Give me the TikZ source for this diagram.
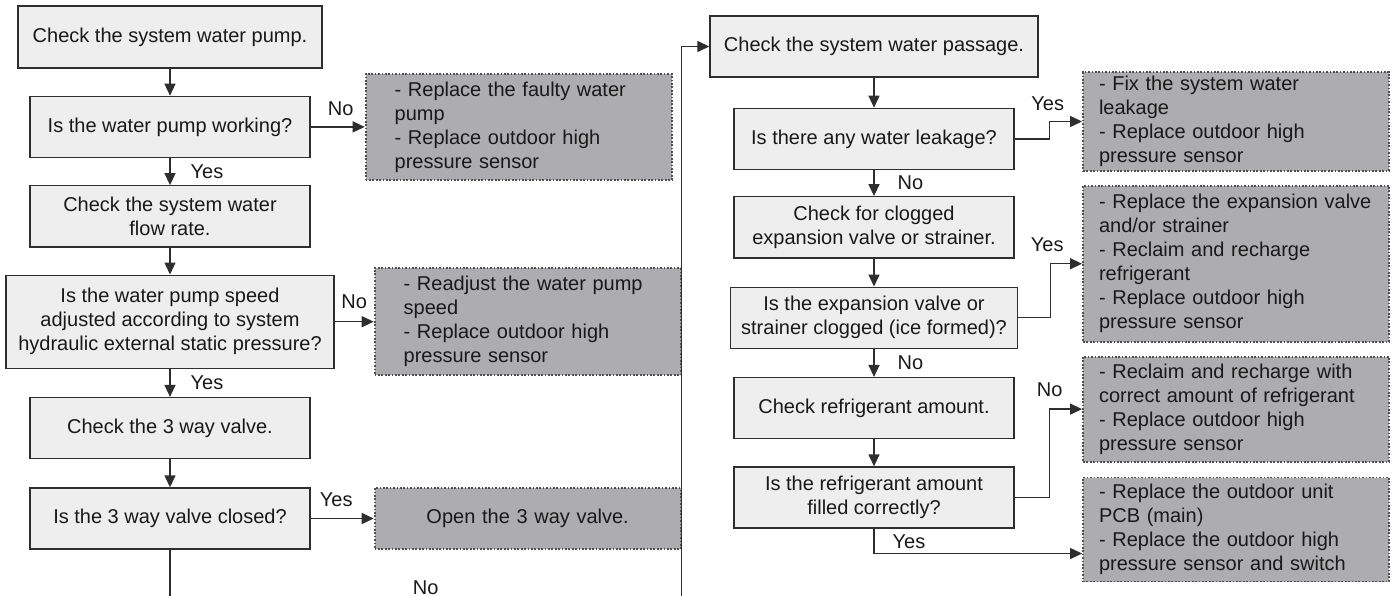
\documentclass[tikz,border=0pt]{standalone}
\usepackage{fontspec}
\setmainfont{Liberation Sans}
\usepackage{tikz}
\usepackage{xcolor}
\usetikzlibrary{arrows.meta,positioning,calc}
\definecolor{boxfill}{HTML}{EEEEEE}
\definecolor{fixfill}{HTML}{ADADAF}
\definecolor{edge}{HTML}{2E2E2E}
\definecolor{dotedge}{HTML}{505050}

\begin{document}
\begin{tikzpicture}[x=1pt, y=-1pt, >={Triangle[length=12pt,width=11pt]},
  font=\fontsize{20}{24}\selectfont, text=black!90,
  chk/.style={draw=edge, line width=1.4pt, fill=boxfill, align=center, minimum width=280pt, minimum height=61pt, inner sep=3pt},
  fix/.style={draw=dotedge, line width=1.9pt, dash pattern=on 1.7pt off 1.7pt, fill=fixfill, minimum width=306pt, text width=274pt, inner xsep=16pt, inner ysep=4pt, align=left},
  lbl/.style={inner sep=0pt},
  conn/.style={->, draw=edge, line width=1.4pt}]
  \useasboundingbox (0,0) rectangle (1397,596);
  \clip (0,0) rectangle (1397,596);

  % left column
  \node[chk, minimum width=304pt, minimum height=62pt] (pump) at (170,37) {Check the system water pump.};
  \node[chk, below=27pt of pump] (pumpok) {Is the water pump working?};
  \node[chk, below=27pt of pumpok] (flow) {Check the system water\\flow rate.};
  \node[chk, below=27pt of flow, minimum width=328pt, minimum height=93pt] (speed) {Is the water pump speed\\adjusted according to system\\hydraulic external static pressure?};
  \node[chk, below=28pt of speed] (valve) {Check the 3 way valve.};
  \node[chk, below=28pt of valve] (closed) {Is the 3 way valve closed?};

  \node[fix, right=54pt of pumpok, text width=248pt, minimum height=106pt] (fixpump) {- Replace the faulty water\\pump\\- Replace outdoor high\\pressure sensor};
  \node[fix, right=39pt of speed, text width=248pt, minimum height=107pt] (fixspeed) {- Readjust the water pump\\speed\\- Replace outdoor high\\pressure sensor};
  \node[fix, right=63pt of closed, text width=248pt, minimum height=61pt, align=center] (openvalve) {Open the 3 way valve.};

  % right column
  \node[chk, minimum width=328pt] (passage) at (874,46.5) {Check the system water passage.};
  \node[chk, below=30pt of passage] (leak) {Is there any water leakage?};
  \node[chk, below=26pt of leak] (clog) {Check for clogged\\expansion valve or strainer.};
  \node[chk, below=28pt of clog, minimum width=287pt] (iced) {Is the expansion valve or\\strainer clogged (ice formed)?};
  \node[chk, below=28pt of iced] (refr) {Check refrigerant amount.};
  \node[chk, below=27pt of refr] (filled) {Is the refrigerant amount\\filled correctly?};

  \node[fix, minimum height=97pt] (fixleak) at (1236,121.5) {- Fix the system water\\leakage\\- Replace outdoor high\\pressure sensor};
  \node[fix, below=13pt of fixleak, minimum height=156pt] (fixclog) {- Replace the expansion valve\\and/or strainer\\- Reclaim and recharge\\refrigerant\\- Replace outdoor high\\pressure sensor};
  \node[fix, below=13pt of fixclog, minimum height=105pt] (fixrefr) {- Reclaim and recharge with\\correct amount of refrigerant\\- Replace outdoor high\\pressure sensor};
  \node[fix, below=14pt of fixrefr, minimum height=104pt] (fixpcb) {- Replace the outdoor unit\\PCB (main)\\- Replace the outdoor high\\pressure sensor and switch};

  % connectors, left
  \draw[conn] (pump) -- (pumpok);
  \draw[conn] (pumpok) -- node[lbl, pos=.5, xshift=3pt, yshift=18pt] {No} (fixpump);
  \draw[conn] (pumpok) -- node[lbl, right=20pt] {Yes} (flow);
  \draw[conn] (flow) -- (speed);
  \draw[conn] (speed) -- node[lbl, pos=.5, yshift=20pt] {No} (fixspeed);
  \draw[conn] (speed) -- node[lbl, right=20pt] {Yes} (valve);
  \draw[conn] (valve) -- (closed);
  \draw[conn] (closed) -- node[lbl, pos=.5, xshift=-6pt, yshift=19pt] {Yes} (openvalve);
  \draw[conn] (closed.south) -- ++(0,58) -| node[lbl, pos=.25, yshift=20pt] {No} ($(passage.west)+(-28,0)$) -- (passage.west);

  % connectors, right
  \draw[conn] (passage) -- (leak);
  \draw[conn] (leak.east) -- ++(35,0) |- node[lbl, pos=.5, xshift=-2pt, yshift=18pt] {Yes} (fixleak.west);
  \draw[conn] (leak) -- node[lbl, right=23pt] {No} (clog);
  \draw[conn] (clog) -- (iced);
  \draw[conn] (iced.east) -- ++(32,0) |- node[lbl, pos=.5, xshift=-3pt, yshift=19pt] {Yes} (fixclog.west);
  \draw[conn] (iced) -- node[lbl, right=23pt] {No} (refr);
  \draw[conn] (refr) -- (filled);
  \draw[conn] (filled.east) -- ++(35,0) |- node[lbl, pos=.5, yshift=19pt] {No} (fixrefr.west);
  \draw[conn] (filled.south) |- node[lbl, pos=.5, xshift=35pt, yshift=12pt] {Yes} ($(fixpcb.west)+(0,24)$);
\end{tikzpicture}
\end{document}
